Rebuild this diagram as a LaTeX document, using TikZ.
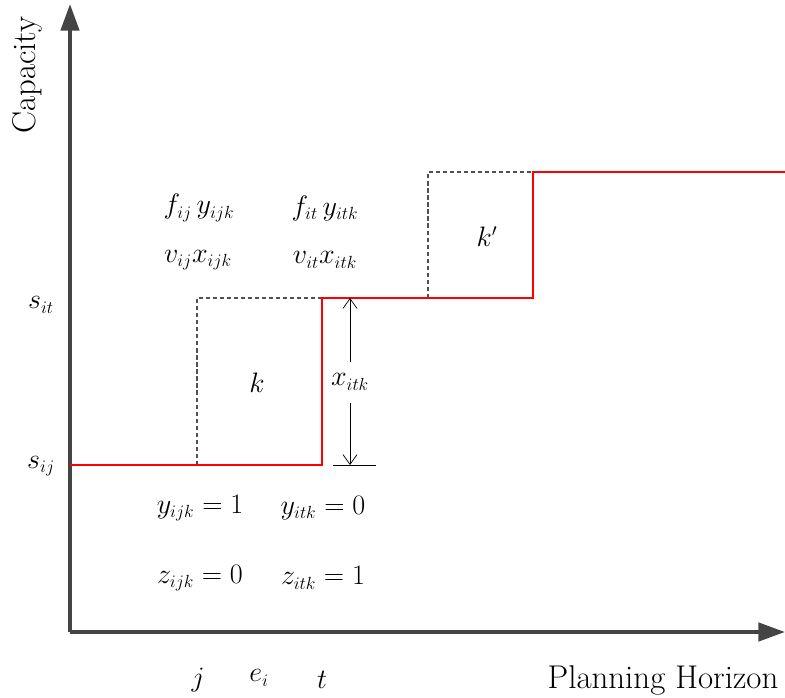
\RequirePackage{fix-cm}
\documentclass[tikz,border=0pt]{standalone}
\usetikzlibrary{arrows.meta}
\DeclareMathSizes{20}{20}{12.5}{10}
\begin{document}
\begin{tikzpicture}[x=0.025cm,y=-0.025cm,
  axis/.style={line width=2.8pt, draw={rgb,255:red,68;green,68;blue,68},
    -{Triangle[length=19pt,width=13pt]}},
  stepline/.style={line width=2pt, red},
  guide/.style={line width=1.6pt, draw={rgb,255:red,80;green,80;blue,80},
    dash pattern=on 3pt off 2pt},
  dim/.style={line width=0.5pt, -{Straight Barb[length=7pt,width=10pt]}},
  lab/.style={font=\fontsize{20}{24}\selectfont, inner sep=0pt},
  big/.style={font=\fontsize{23.4}{28}\selectfont, inner sep=0pt}]
  \useasboundingbox (0,0) rectangle (785,698);

  % axes
  \coordinate (O) at (70,632);
  \draw[axis] (O) -- (70,4);
  \draw[axis] (O) -- (785,632);
  \node[big, rotate=90] (cap) at (27,75) {Capacity};
  \node[big] (ph) at (663,680) {Planning Horizon};

  % levels on the capacity axis
  \node[lab] (sit) at (41,305) {$s_{it}$};
  \node[lab] (sij) at (41,466) {$s_{ij}$};

  % periods on the horizon axis
  \node[lab] (pj) at (198,680) {$j$};
  \node[lab] (pe) at (259,678) {$e_i$};
  \node[lab] (pt) at (322,680) {$t$};

  % expansion options k and k'
  \draw[guide] (197,465) -- (197,298) -- (322,298);
  \draw[guide] (428,298) -- (428,172) -- (533,172);
  \node[lab] (k) at (257,383) {$k$};
  \node[lab] (kp) at (487,237) {$k'$};

  % capacity curve
  \draw[stepline] (70,465) -- (322,465) -- (322,298) -- (533,298)
    -- (533,172) -- (785,172);

  % size of the expansion at t
  \coordinate (top) at (350,298);
  \coordinate (bot) at (350,465);
  \draw[line width=0.5pt] (333,465) -- (376,465);
  \node[lab] (xitk) at (350,382) {$x_{itk}$};
  \draw[dim] (350,362) -- (top);
  \draw[dim] (350,403) -- (bot);

  % costs
  \node[lab] (fij) at (199,208) {$f_{ij}\,y_{ijk}$};
  \node[lab] (fit) at (325,208) {$f_{it}\,y_{itk}$};
  \node[lab] (vij) at (198,260) {$v_{ij}x_{ijk}$};
  \node[lab] (vit) at (325,260) {$v_{it}x_{itk}$};

  % decision values
  \node[lab] (yij) at (200,508) {$y_{ijk}=1$};
  \node[lab] (yit) at (323,508) {$y_{itk}=0$};
  \node[lab] (zij) at (200,578) {$z_{ijk}=0$};
  \node[lab] (zit) at (323,578) {$z_{itk}=1$};
\end{tikzpicture}
\end{document}
